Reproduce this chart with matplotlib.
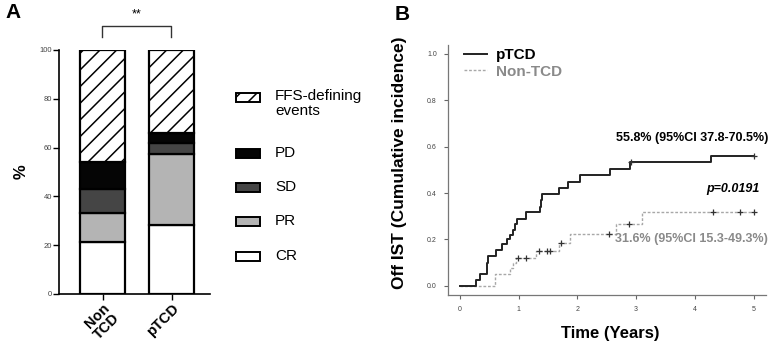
import numpy as np
import matplotlib
matplotlib.use("Agg")
import matplotlib.pyplot as plt
from matplotlib.patches import Rectangle

plt.rcParams['font.family'] = ['Liberation Sans', 'DejaVu Sans']
plt.rcParams['hatch.linewidth'] = 1.1

# ---- panel A data (stacked %)
groups = ['Non\nTCD', 'pTCD']
resp_labels = ['CR', 'PR', 'SD', 'PD', 'FFS-defining\nevents']
cr = [21.2, 28.3]
pr = [12.0, 29.1]
sd = [9.8, 4.6]
pd_ = [11.0, 4.1]
ffs = [46.0, 33.9]
resp_colors = ['white', '#b4b4b4', '#454545', '#050505', 'white']
resp_hatch = [None, None, None, None, '//']

# ---- panel B data (cumulative incidence, step curves)
ptcd_t = [0, 0.28, 0.35, 0.46, 0.48, 0.62, 0.72, 0.80, 0.86, 0.91, 0.94, 0.98,
          1.12, 1.36, 1.38, 1.40, 1.68, 1.84, 2.05, 2.55, 2.90, 4.27, 5.0]
ptcd_v = [0, 0.025, 0.05, 0.10, 0.13, 0.155, 0.18, 0.20, 0.22, 0.24, 0.265, 0.29,
          0.316, 0.34, 0.37, 0.395, 0.42, 0.449, 0.477, 0.505, 0.532, 0.558, 0.558]
ptcd_cens_t = [2.92, 5.0]
ptcd_cens_v = [0.532, 0.558]

non_t = [0, 0.60, 0.85, 0.90, 0.95, 1.30, 1.68, 1.88, 2.66, 3.10, 5.0]
non_v = [0, 0.05, 0.075, 0.10, 0.12, 0.15, 0.185, 0.224, 0.268, 0.316, 0.316]
non_cens_t = [0.99, 1.12, 1.34, 1.48, 1.54, 1.73, 2.54, 2.87, 4.31, 4.77, 5.0]
non_cens_v = [0.12, 0.12, 0.15, 0.15, 0.15, 0.185, 0.224, 0.268, 0.316, 0.316, 0.316]

W, H = 780, 346
fig = plt.figure(figsize=(7.8, 3.46), dpi=100)

# ================= panel A
axA = fig.add_axes([59 / W, 1 - 294 / H, 151 / W, 244 / H])
x = np.arange(len(groups))
bottom = np.zeros(len(groups))
for vals, col, hat in zip([cr, pr, sd, pd_, ffs], resp_colors, resp_hatch):
    axA.bar(x, vals, width=0.65, bottom=bottom, color=col, edgecolor='black',
            linewidth=1.6, hatch=hat, zorder=2)
    bottom += np.array(vals)
axA.set_xlim(-0.63, 1.55)
axA.set_ylim(0, 100)
axA.set_yticks([0, 20, 40, 60, 80, 100])
axA.set_xticks(x)
axA.set_xticklabels(groups, rotation=45, ha='right', va='top', rotation_mode='anchor',
                    fontsize=10.5, fontweight='bold', multialignment='center',
                    linespacing=0.95)
axA.tick_params(axis='y', labelsize=5.5, labelcolor='#444', length=4, width=1, pad=1)
axA.tick_params(axis='x', length=4, width=1, pad=1)
for s in ['top', 'right']:
    axA.spines[s].set_visible(False)
for s in ['left', 'bottom']:
    axA.spines[s].set_linewidth(1.2)
axA.set_ylabel('%', fontsize=12, fontweight='bold')
axA.yaxis.set_label_coords(-0.2, 0.5)

# significance bracket
fig.lines.append(plt.Line2D([102 / W, 102 / W, 171 / W, 171 / W],
                            [1 - 37 / H, 1 - 26 / H, 1 - 26 / H, 1 - 37 / H],
                            transform=fig.transFigure, color='#333', lw=1))
fig.text(137 / W, 1 - 14 / H, '**', ha='center', va='center', fontsize=9)

# legend for panel A
leg_y = [256, 221, 187, 153, 97]
for lab, col, hat, yy in zip(resp_labels, resp_colors, resp_hatch, leg_y):
    fig.patches.append(Rectangle((236 / W, 1 - (yy + 4.5) / H), 24 / W, 9 / H,
                                 transform=fig.transFigure, facecolor=col,
                                 edgecolor='black', linewidth=1.4, hatch=hat))
    if '\n' in lab:
        fig.text(275 / W, 1 - (yy - 8) / H, lab, ha='left', va='top', fontsize=11,
                 linespacing=1.1)
    else:
        fig.text(275 / W, 1 - yy / H, lab, ha='left', va='center', fontsize=11)

fig.text(5 / W, 1 - 3 / H, 'A', ha='left', va='top', fontsize=15, fontweight='bold')

# ================= panel B
axB = fig.add_axes([448 / W, 1 - 295 / H, 317.5 / W, 250.3 / H])
ln1, = axB.step(ptcd_t, ptcd_v, where='post', color='#222', lw=1.4, label='pTCD', zorder=3)
ln2, = axB.step(non_t, non_v, where='post', color='#a8a8a8', lw=1.0,
                dashes=(2, 1.3), label='Non-TCD', zorder=2)
axB.plot(ptcd_cens_t, ptcd_cens_v, ls='none', marker='+', ms=5, mew=0.9, color='#333', zorder=4)
axB.plot(non_cens_t, non_cens_v, ls='none', marker='+', ms=5, mew=0.9, color='#333', zorder=4)
axB.set_xlim(-0.2, 5.2)
axB.set_ylim(-0.04, 1.04)
axB.set_xticks([0, 1, 2, 3, 4, 5])
axB.set_yticks([0.0, 0.2, 0.4, 0.6, 0.8, 1.0])
axB.set_yticklabels(['0.0', '0.2', '0.4', '0.6', '0.8', '1.0'])
axB.tick_params(labelsize=5, labelcolor='#444', length=3, width=0.8, color='#666', pad=5)
for s in ['top', 'right']:
    axB.spines[s].set_visible(False)
for s in ['left', 'bottom']:
    axB.spines[s].set_color('#777')
    axB.spines[s].set_linewidth(0.9)
axB.set_ylabel('Off IST (Cumulative incidence)', fontsize=12.5, fontweight='bold')
axB.yaxis.set_label_coords(-0.13, 0.527)
axB.set_xlabel('Time (Years)', fontsize=12, fontweight='bold')
axB.xaxis.set_label_coords(0.51, -0.125)

leg = axB.legend(handles=[ln1, ln2], loc='upper left', bbox_to_anchor=(0.05, 0.985),
                 frameon=False, borderpad=0, borderaxespad=0, handlelength=1.5,
                 handletextpad=0.6, labelspacing=0.15,
                 prop={'weight': 'bold', 'size': 11})
leg.get_texts()[1].set_color('#8a8a8a')

axB.text(1.008, 0.627, '55.8% (95%CI 37.8-70.5%)', transform=axB.transAxes,
         ha='right', va='center', fontsize=9, fontweight='bold', clip_on=False)
axB.text(0.983, 0.4235, 'p=0.0191', transform=axB.transAxes, ha='right', va='center',
         fontsize=9, fontweight='bold', fontstyle='italic')
axB.text(1.008, 0.224, '31.6% (95%CI 15.3-49.3%)', transform=axB.transAxes,
         ha='right', va='center', fontsize=9, fontweight='bold', color='#8a8a8a',
         clip_on=False)

fig.text(395 / W, 1 - 5 / H, 'B', ha='left', va='top', fontsize=15, fontweight='bold')

fig.savefig('out.png', dpi=100)
